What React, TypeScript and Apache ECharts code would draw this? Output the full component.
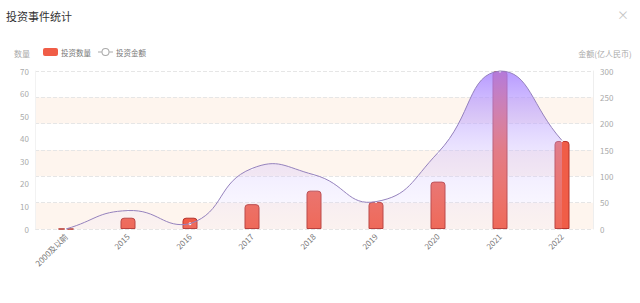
import React, { useEffect, useRef } from "react";
import * as echarts from "echarts";

const categories = ["2000及以前", "2015", "2016", "2017", "2018", "2019", "2020", "2021", "2022"];
const investCount = [0, 5, 5, 11, 17, 12, 21, 70, 39];
const investAmount = [0, 35, 10, 115, 103, 52, 145, 300, 168];
const countTicks = { min: 0, max: 70, interval: 10 };
const amountTicks = { min: 0, max: 300, interval: 50 };

const FONT = '"Noto Sans CJK SC", "Noto Sans", sans-serif';

// Legend icon for the amount series: short line, hollow circle, short line (15 x 8 box)
const LINE_ICON =
  "path://M0,3.6 L4,3.6 L4,4.4 L0,4.4 Z M11,3.6 L15,3.6 L15,4.4 L11,4.4 Z " +
  "M7.5,0 A4,4 0 1,1 7.5,8 A4,4 0 1,1 7.5,0 Z M7.5,1 A3,3 0 1,0 7.5,7 A3,3 0 1,0 7.5,1 Z";

type Pt = number[];

// Distance-weighted bezier smoothing (free to bulge between points,
// clamped only to the overall extent of the data).
function smoothCurve(pts: Pt[], smooth: number): string {
  const n = pts.length;
  let minX = Infinity, minY = Infinity, maxX = -Infinity, maxY = -Infinity;
  pts.forEach(([x, y]) => {
    minX = Math.min(minX, x); maxX = Math.max(maxX, x);
    minY = Math.min(minY, y); maxY = Math.max(maxY, y);
  });
  const clamp = (p: Pt): Pt => [
    Math.min(maxX, Math.max(minX, p[0])),
    Math.min(maxY, Math.max(minY, p[1])),
  ];
  const cpIn: Pt[] = [];
  const cpOut: Pt[] = [];
  for (let i = 0; i < n; i++) {
    const p = pts[i];
    const prev = pts[Math.max(i - 1, 0)];
    const next = pts[Math.min(i + 1, n - 1)];
    const vx = (next[0] - prev[0]) * smooth;
    const vy = (next[1] - prev[1]) * smooth;
    let d0 = Math.hypot(p[0] - prev[0], p[1] - prev[1]);
    let d1 = Math.hypot(p[0] - next[0], p[1] - next[1]);
    const sum = d0 + d1;
    if (sum !== 0) { d0 /= sum; d1 /= sum; }
    cpIn.push(clamp([p[0] - vx * d0, p[1] - vy * d0]));
    cpOut.push(clamp([p[0] + vx * d1, p[1] + vy * d1]));
  }
  let d = `M${pts[0][0]},${pts[0][1]}`;
  for (let i = 0; i < n - 1; i++) {
    const a = cpOut[i], b = cpIn[i + 1], p = pts[i + 1];
    d += ` C${a[0]},${a[1]} ${b[0]},${b[1]} ${p[0]},${p[1]}`;
  }
  return d;
}

export default function App() {
  const ref = useRef<HTMLDivElement>(null);

  useEffect(() => {
    if (!ref.current) return;
    const chart = echarts.init(ref.current, undefined, { renderer: "svg" });
    chart.setOption({
      animation: false,
      backgroundColor: "#fff",
      textStyle: { fontFamily: FONT },
      title: {
        text: "投资事件统计",
        left: 1,
        top: 5,
        textStyle: { fontSize: 11, fontWeight: "normal", color: "#333", fontFamily: FONT },
      },
      graphic: [
        {
          type: "text",
          left: 617,
          top: 8,
          style: { text: "×", fontSize: 12, fill: "#c4c4c4", fontFamily: FONT },
        },
      ],
      legend: {
        left: 38,
        top: 43,
        itemWidth: 15,
        itemHeight: 8,
        itemGap: 7,
        textStyle: { fontSize: 7.5, color: "#777", fontFamily: FONT, padding: [0, 0, 0, -2] },
        data: [
          {
            name: "投资数量",
            icon: "roundRect",
            itemStyle: { color: "#f05d47", borderWidth: 0 },
          },
          {
            name: "投资金额",
            icon: LINE_ICON,
            itemStyle: { color: "#aaa", borderWidth: 0 },
          },
        ],
      },
      grid: { left: 35, right: 47, top: 71, bottom: 74 },
      xAxis: {
        type: "category",
        data: categories,
        axisLine: { show: false },
        axisTick: { show: false },
        axisLabel: {
          rotate: 45,
          fontSize: 8,
          color: "#777",
          margin: 6,
          interval: 0,
          fontFamily: FONT,
        },
      },
      yAxis: [
        {
          type: "value",
          name: "数量",
          nameGap: 14,
          nameTextStyle: { fontSize: 8, color: "#aaa", align: "right", padding: [0, 5, 0, 0], fontFamily: FONT },
          ...countTicks,
          axisLine: { show: true, lineStyle: { color: "#f2f2f2" } },
          axisTick: { show: false },
          axisLabel: { fontSize: 8, color: "#aaa", margin: 6, fontFamily: FONT },
          splitLine: { show: false },
        },
        {
          type: "value",
          name: "金额(亿人民币)",
          nameGap: 14,
          nameTextStyle: { fontSize: 8, color: "#aaa", align: "center", padding: [0, 0, 0, 24], fontFamily: FONT },
          ...amountTicks,
          position: "right",
          axisLine: { show: true, lineStyle: { color: "#eee" } },
          axisTick: { show: false },
          axisLabel: { fontSize: 8, color: "#aaa", margin: 7, fontFamily: FONT },
          splitLine: { show: true, lineStyle: { color: "#e6e6e6", type: "dashed" } },
          splitArea: {
            show: true,
            areaStyle: { color: ["rgba(253,238,226,0.6)", "rgba(255,255,255,0)"] },
          },
        },
      ],
      series: [
        {
          name: "投资数量",
          type: "bar",
          yAxisIndex: 0,
          data: investCount,
          barWidth: 15,
          itemStyle: {
            color: "#f05d47",
            borderColor: "#b5322a",
            borderWidth: 1,
            borderRadius: [3, 3, 0, 0],
          },
        },
        {
          name: "投资金额",
          type: "custom",
          yAxisIndex: 1,
          data: investAmount.map((v, i) => [i, v]),
          encode: { x: 0, y: 1 },
          renderItem: (params: any, api: any) => {
            const i = params.dataIndex;
            const p = api.coord([i, investAmount[i]]);
            // point marker sits under the curve stroke
            const dot = {
              type: "circle",
              shape: { cx: p[0], cy: p[1], r: 1.4 },
              style: { fill: "#fff" },
              z2: 5,
            };
            if (i !== 0) return dot;
            const pts = investAmount.map((v, k) => api.coord([k, v]));
            const baseY = api.coord([0, 0])[1];
            const curve = smoothCurve(pts, 0.5);
            const last = pts[pts.length - 1];
            const area = `${curve} L${last[0]},${baseY} L${pts[0][0]},${baseY} Z`;
            return {
              type: "group",
              children: [
                {
                  type: "path",
                  z2: 1,
                  shape: { pathData: area },
                  style: {
                    fill: new echarts.graphic.LinearGradient(0, 0, 0, 1, [
                      { offset: 0, color: "rgba(165,128,255,0.8)" },
                      { offset: 0.5, color: "rgba(200,180,255,0.35)" },
                      { offset: 1, color: "rgba(225,215,255,0.1)" },
                    ]),
                    stroke: "none",
                  },
                },
                {
                  type: "path",
                  z2: 20,
                  shape: { pathData: curve },
                  style: { fill: "none", stroke: "#9582bd", lineWidth: 1 },
                },
                dot,
              ],
            };
          },
        },
      ],
    });
    return () => chart.dispose();
  }, []);

  return (
    <div
      ref={ref}
      style={{ width: 640, height: 303, position: "absolute", left: 0, top: 0 }}
    />
  );
}
